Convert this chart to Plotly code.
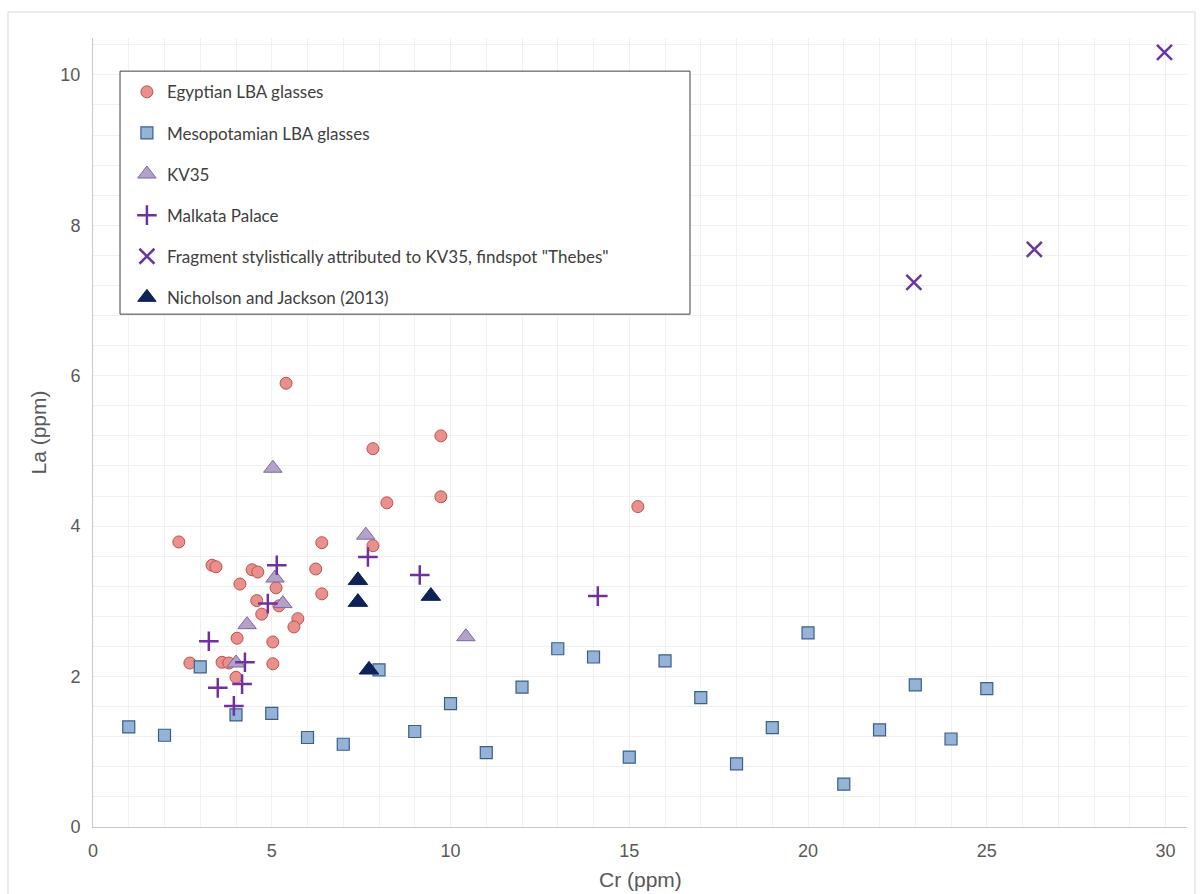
import plotly.graph_objects as go

# ---- data (Cr ppm, La ppm) ----
egypt_cr = [5.40, 2.40, 9.73, 7.83, 8.22, 9.73, 15.24, 6.40, 7.83, 3.33, 3.44, 4.45, 4.61, 6.23, 4.11,
            5.12, 4.58, 5.20, 6.40, 4.72, 5.73, 5.62, 4.03, 5.03, 2.71, 3.61, 3.80, 5.03, 4.00]
egypt_la = [5.90, 3.79, 5.20, 5.03, 4.31, 4.39, 4.26, 3.78, 3.74, 3.48, 3.46, 3.42, 3.39, 3.43, 3.23,
            3.18, 3.01, 2.94, 3.10, 2.83, 2.77, 2.66, 2.51, 2.46, 2.18, 2.19, 2.18, 2.17, 1.99]

meso_cr = [1, 2, 3, 4, 5, 6, 7, 8, 9, 10, 11, 12, 13, 14, 15, 16, 17, 18, 19, 20, 21, 22, 23, 24, 25]
meso_la = [1.33, 1.22, 2.13, 1.49, 1.51, 1.19, 1.10, 2.09, 1.27, 1.64, 0.99, 1.86, 2.37, 2.26, 0.93,
           2.21, 1.72, 0.84, 1.32, 2.58, 0.57, 1.29, 1.89, 1.17, 1.84]

kv35_cr = [5.03, 7.63, 5.09, 5.31, 4.31, 10.43, 4.00]
kv35_la = [4.77, 3.88, 3.31, 2.97, 2.69, 2.53, 2.18]

malkata_cr = [5.14, 7.69, 9.14, 14.12, 4.89, 3.24, 4.25, 3.49, 4.17, 3.94]
malkata_la = [3.48, 3.59, 3.35, 3.07, 2.97, 2.47, 2.19, 1.85, 1.90, 1.61]

thebes_cr = [22.96, 26.33, 29.97]
thebes_la = [7.24, 7.68, 10.30]

nj_cr = [7.41, 7.41, 9.45, 7.72]
nj_la = [3.28, 2.99, 3.07, 2.09]

series_names = [
    "Egyptian LBA glasses",
    "Mesopotamian LBA glasses",
    "KV35",
    "Malkata Palace",
    'Fragment stylistically attributed to KV35, findspot "Thebes"',
    "Nicholson and Jackson (2013)",
]

x_title = "Cr (ppm)"
y_title = "La (ppm)"

x_ticks = [0, 5, 10, 15, 20, 25, 30]
y_ticks = [0, 2, 4, 6, 8, 10]

fig = go.Figure()

fig.add_trace(go.Scatter(x=egypt_cr, y=egypt_la, mode="markers", name=series_names[0], legendgroup="a",
                         marker=dict(symbol="circle", size=12, color="#e8918c",
                                     line=dict(color="#c0504d", width=1))))
fig.add_trace(go.Scatter(x=meso_cr, y=meso_la, mode="markers", name=series_names[1], legendgroup="b",
                         marker=dict(symbol="square", size=12, color="#95b3d7",
                                     line=dict(color="#3a5f8b", width=1.2))))
fig.add_trace(go.Scatter(x=kv35_cr, y=kv35_la, mode="markers", name=series_names[2], legendgroup="c",
                         marker=dict(symbol="triangle-up", size=16, color="#b3a2c7",
                                     line=dict(color="#8064a2", width=1))))
fig.add_trace(go.Scatter(x=malkata_cr, y=malkata_la, mode="markers", name=series_names[3], legendgroup="d",
                         marker=dict(symbol="cross-thin", size=14, color="#7030a0",
                                     line=dict(color="#7030a0", width=2.5))))
fig.add_trace(go.Scatter(x=thebes_cr, y=thebes_la, mode="markers", name=series_names[4], legendgroup="e",
                         marker=dict(symbol="x-thin", size=15, color="#6a35a0",
                                     line=dict(color="#6a35a0", width=2.5))))
fig.add_trace(go.Scatter(x=nj_cr, y=nj_la, mode="markers", name=series_names[5], legendgroup="f",
                         marker=dict(symbol="triangle-up", size=17, color="#0e2258",
                                     line=dict(color="#0e2258", width=1))))

grid_col = "#f0f0f0"
axis_font = dict(family="Liberation Sans, Arial, sans-serif", size=18, color="#595959")
title_font = dict(family="Liberation Sans, Arial, sans-serif", size=21, color="#595959")

fig.update_layout(
    width=1200, height=894,
    paper_bgcolor="white", plot_bgcolor="white",
    margin=dict(l=93, r=13, t=38, b=67, autoexpand=False),
    showlegend=True,
    legend=dict(x=0.031, y=0.954, xanchor="left", yanchor="top",
                bgcolor="rgba(0,0,0,0)", borderwidth=0,
                font=dict(family="Lato, sans-serif", size=17, color="#404040"),
                tracegroupgap=16, itemwidth=30),
    xaxis=dict(range=[0, 30.6], tickvals=x_ticks, ticktext=[str(v) for v in x_ticks],
               showgrid=False, zeroline=False, showline=True, linecolor="#c8c8c8", linewidth=1,
               ticks="", tickfont=axis_font, ticklabelstandoff=7, automargin=False,
               minor=dict(dtick=1, tick0=0, showgrid=True, gridcolor=grid_col, gridwidth=1)),
    yaxis=dict(range=[0, 10.49], tickvals=y_ticks, ticktext=[str(v) for v in y_ticks],
               showgrid=False, zeroline=False, showline=True, linecolor="#c8c8c8", linewidth=1,
               ticks="", tickfont=axis_font, ticklabelstandoff=8, automargin=False,
               minor=dict(dtick=0.4, tick0=0, showgrid=True, gridcolor=grid_col, gridwidth=1),
               title=dict(text=y_title, font=title_font, standoff=8)),
    annotations=[
        dict(text=x_title, xref="paper", yref="paper", x=0.5, y=-0.067, xanchor="center",
             yanchor="middle", showarrow=False, font=title_font),
    ],
    shapes=[
        # outer chart border
        dict(type="rect", xref="paper", yref="paper", x0=-0.0777, x1=1.0073, y0=-0.095, y1=1.033,
             line=dict(color="#d9d9d9", width=1), fillcolor="rgba(0,0,0,0)", layer="below"),
        # legend box
        dict(type="rect", xref="paper", yref="paper", x0=0.0247, x1=0.5457, y0=0.650, y1=0.958,
             line=dict(color="#404040", width=1), fillcolor="white", layer="above"),
    ],
)

fig.write_html("out.html", config={"displayModeBar": False},
               post_script="document.body.style.margin='0px';document.body.style.overflow='hidden';")
